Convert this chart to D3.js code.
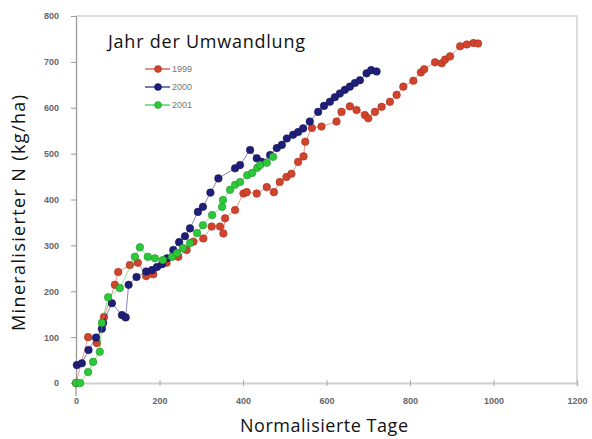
<!DOCTYPE html>
<html>
<head>
<meta charset="utf-8">
<script src="https://cdn.jsdelivr.net/npm/d3@7"></script>
<style>
  body { margin: 0; background: #fff; }
  svg { display: block; }
</style>
</head>
<body>
<div id="chart"></div>
<script>
// series: [normalised days, mineralised N]
var years = ['1999', '2000', '2001'];
var colors = ['#d2432c', '#1f1f7a', '#2dc83a'];
var strokes = ['#9a2a1a', '#10104a', '#1a8a25'];

var s1999 = [
  [0, 0], [29, 100], [50, 87], [67, 144], [93, 214], [101, 242], [129, 257],
  [148, 262], [168, 233], [185, 237], [217, 262], [245, 275], [265, 290],
  [281, 308], [305, 315], [325, 341], [345, 341], [353, 326], [357, 359],
  [381, 377], [401, 413], [409, 416], [433, 413], [457, 427], [474, 416],
  [488, 438], [504, 449], [516, 456], [532, 482], [545, 494], [549, 526],
  [565, 556], [588, 559], [624, 570], [636, 591], [656, 603], [672, 595],
  [692, 584], [700, 577], [716, 591], [732, 602], [752, 613], [768, 628],
  [784, 646], [808, 659], [826, 677], [834, 684], [860, 699], [876, 697],
  [884, 705], [896, 712], [920, 734], [936, 738], [952, 741], [963, 740]
];
var s2000 = [
  [2, 39], [14, 43], [30, 72], [48, 99], [62, 118], [65, 131], [86, 174],
  [110, 148], [119, 143], [126, 214], [145, 231], [168, 243], [182, 246],
  [194, 253], [206, 259], [218, 272], [233, 290], [247, 307], [261, 320],
  [273, 337], [292, 373], [304, 384], [322, 415], [341, 446], [381, 468],
  [393, 475], [417, 508], [433, 490], [445, 482], [465, 497], [481, 512],
  [493, 519], [505, 533], [520, 541], [532, 547], [544, 555], [560, 570],
  [580, 591], [594, 604], [608, 613], [620, 623], [632, 631], [644, 639],
  [656, 646], [668, 654], [680, 660], [696, 675], [707, 682], [720, 679]
];
var s2001 = [
  [0, 0], [10, 0], [29, 24], [41, 46], [57, 68], [62, 131], [77, 187],
  [105, 207], [141, 275], [153, 296], [172, 275], [189, 272], [208, 268],
  [230, 275], [242, 283], [256, 294], [273, 305], [290, 327], [304, 344],
  [326, 366], [350, 384], [352, 399], [369, 421], [381, 432], [393, 438],
  [410, 453], [422, 458], [434, 469], [441, 475], [457, 480], [472, 493]
];
var seriesData = [s1999, s2000, s2001];

var xTicks = [0, 200, 400, 600, 800, 1000, 1200];
var yTicks = [0, 100, 200, 300, 400, 500, 600, 700, 800];

var width = 592, height = 439;
var plotLeft = 76, plotRight = 577, plotTop = 16, plotBottom = 383;

var x = d3.scaleLinear().domain([0, 1200]).range([plotLeft, plotRight]);
var y = d3.scaleLinear().domain([0, 800]).range([plotBottom, plotTop]);

var svg = d3.select('#chart').append('svg')
  .attr('width', width)
  .attr('height', height);

// plot frame (top and right)
svg.append('path')
  .attr('d', 'M' + plotLeft + ',' + plotTop + 'H' + plotRight + 'V' + plotBottom)
  .attr('fill', 'none')
  .attr('stroke', '#dcdcdc')
  .attr('stroke-width', 2);

var tickFont = 'bold 9px "Liberation Sans", Arial, sans-serif';

// x axis
var xAxis = svg.append('g')
  .attr('transform', 'translate(0,' + plotBottom + ')')
  .call(d3.axisBottom(x).tickValues(xTicks).tickFormat(d3.format('d'))
    .tickSize(3).tickPadding(12));
xAxis.select('.domain').attr('stroke', '#cfcfcf').attr('stroke-width', 2);
xAxis.selectAll('.tick line').attr('y1', -3).attr('stroke', '#aaa');
xAxis.selectAll('.tick text').attr('fill', '#666').style('font', tickFont);

// y axis
var yAxis = svg.append('g')
  .attr('transform', 'translate(' + plotLeft + ',0)')
  .call(d3.axisLeft(y).tickValues(yTicks).tickSize(5).tickPadding(12).tickSizeOuter(0));
yAxis.select('.domain').attr('stroke', '#999').attr('stroke-width', 1.3);
yAxis.selectAll('.tick line').attr('stroke', '#999');
yAxis.selectAll('.tick text').attr('fill', '#666').style('font', tickFont);
svg.append('line')
  .attr('x1', plotLeft).attr('x2', plotLeft)
  .attr('y1', plotBottom).attr('y2', plotBottom + 13)
  .attr('stroke', '#999').attr('stroke-width', 1.3);

// series
var line = d3.line()
  .x(function(d) { return x(d[0]); })
  .y(function(d) { return y(d[1]); });

seriesData.forEach(function(s, i) {
  svg.append('path')
    .datum(s)
    .attr('d', line)
    .attr('fill', 'none')
    .attr('stroke', colors[i])
    .attr('stroke-opacity', 0.6)
    .attr('stroke-width', 0.9);
  svg.append('g')
    .selectAll('circle')
    .data(s)
    .join('circle')
    .attr('cx', function(d) { return x(d[0]); })
    .attr('cy', function(d) { return y(d[1]); })
    .attr('r', 3.8)
    .attr('fill', colors[i])
    .attr('stroke', strokes[i])
    .attr('stroke-opacity', 0.5)
    .attr('stroke-width', 1);
});

// legend
svg.append('text')
  .attr('x', 108).attr('y', 48)
  .attr('textLength', 197).attr('lengthAdjust', 'spacing')
  .style('font', '18px "Open Sans", sans-serif')
  .attr('fill', '#111')
  .text('Jahr der Umwandlung');

var legendY = [69, 87, 105];
years.forEach(function(yr, i) {
  var g = svg.append('g').attr('transform', 'translate(0,' + legendY[i] + ')');
  g.append('line').attr('x1', 145).attr('x2', 170)
    .attr('stroke', colors[i]).attr('stroke-width', 1.2);
  g.append('circle').attr('cx', 158).attr('r', 3.5)
    .attr('fill', colors[i]).attr('stroke', strokes[i]).attr('stroke-opacity', 0.5);
  g.append('text').attr('x', 172).attr('dy', '0.35em')
    .style('font', '9px "Liberation Sans", Arial, sans-serif')
    .attr('fill', '#777')
    .text(yr);
});

// axis titles
svg.append('text')
  .attr('transform', 'translate(25,213) rotate(-90)')
  .attr('text-anchor', 'middle')
  .attr('textLength', 236).attr('lengthAdjust', 'spacing')
  .style('font', '18px "Open Sans", sans-serif')
  .attr('fill', '#111')
  .text('Mineralisierter N (kg/ha)');

svg.append('text')
  .attr('x', 324).attr('y', 432)
  .attr('text-anchor', 'middle')
  .attr('textLength', 168).attr('lengthAdjust', 'spacing')
  .style('font', '18px "Open Sans", sans-serif')
  .attr('fill', '#111')
  .text('Normalisierte Tage');
</script>
</body>
</html>
